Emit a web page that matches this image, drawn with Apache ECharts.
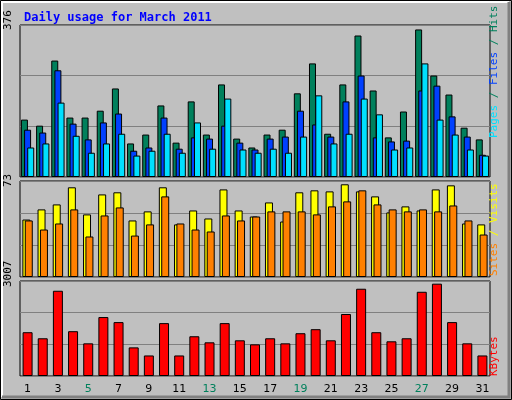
<!DOCTYPE html>
<html><head><meta charset="utf-8">
<script src="https://cdn.jsdelivr.net/npm/echarts@6/dist/echarts.min.js"></script>
<style>html,body{margin:0;padding:0;background:#c0c0c0}#c{width:512px;height:400px}</style>
</head><body><div id="c"></div>
<script>
const days = ['1','2','3','4','5','6','7','8','9','10','11','12','13','14','15','16','17','18','19','20','21','22','23','24','25','26','27','28','29','30','31'];
const weekend = ['5','6','12','13','19','20','26','27'];
const hits = [142,127,288,147,147,164,219,83,105,177,85,187,105,229,95,73,105,117,207,281,107,229,350,214,98,162,365,251,204,122,93];
const files = [117,110,264,132,93,135,157,65,73,147,70,98,95,127,85,68,95,100,164,130,100,187,251,98,88,90,214,226,150,100,55];
const pages = [73,83,184,102,60,83,107,53,65,107,60,135,70,194,68,60,70,60,100,202,83,107,194,155,68,73,281,142,105,68,53];
const visits = [43.7,51.4,55.2,68.2,47.6,62.8,64.4,43,49.9,68.2,40,50.6,44.5,66.6,50.6,46,56.7,42.2,64.4,65.9,65.1,70.5,65.1,61.3,49.1,53.7,50.6,66.6,69.7,40.7,40];
const sites = [43,36.1,40.7,51.4,30.8,46.8,52.9,31.5,40,61.3,40.7,36.1,34.6,46.8,43,46,49.9,49.9,49.9,47.6,53.7,57.5,65.9,55.2,51.4,49.9,51.4,49.9,54.4,43,32.3];
const kbytes = [1386,1194,2698,1418,1034,1866,1706,906,650,1674,650,1258,1066,1674,1130,1002,1194,1034,1354,1482,1130,1962,2762,1386,1098,1194,2666,2922,1706,1034,650];
const maxHits = 376, maxVisits = 73, maxKB = 3007;

const chart = echarts.init(document.getElementById('c'));
const grids = [{top:25,height:152},{top:181,height:96},{top:281,height:95}];
const maxes = [maxHits, maxVisits, maxKB];
const bs = {borderColor:'#000',borderWidth:1};
function xa(i){return {type:'category',gridIndex:i,data:days,axisTick:{show:false},
  axisLine:{show:false},
  axisLabel:{show:i===2,margin:8,fontFamily:'DejaVu Sans',fontSize:11,
    color:(v)=>weekend.includes(v)?'#00805c':'#000'}};}
function ya(i){return {type:'value',gridIndex:i,min:0,max:maxes[i],interval:maxes[i]/3,
  axisLabel:{show:false},axisLine:{show:false},axisTick:{show:false},
  splitLine:{lineStyle:{color:'#808080',width:1}}};}
const rt=(x,y,rich,text)=>({type:'text',x:x,y:y,rotation:Math.PI/2,
  style:{text:text,rich:rich,font:'11px DejaVu Sans Mono',fill:'#000',align:'left',verticalAlign:'middle'}});
chart.setOption({
  animation:false,
  backgroundColor:'#c0c0c0',
  title:{text:'Daily usage for March 2011',left:19,top:7,
    textStyle:{color:'#0000ff',fontFamily:'DejaVu Sans Mono',fontWeight:'bold',fontSize:12}},
  grid:grids.map(g=>({left:20,width:470,top:g.top,height:g.height,show:true,
    backgroundColor:'#c0c0c0',borderColor:'#000',borderWidth:1})),
  xAxis:[xa(0),xa(1),xa(2)],
  yAxis:[ya(0),ya(1),ya(2)],
  series:[
    {type:'bar',xAxisIndex:0,yAxisIndex:0,data:hits,barWidth:7,barGap:'-55%',itemStyle:{color:'#00805c',...bs}},
    {type:'bar',xAxisIndex:0,yAxisIndex:0,data:files,barWidth:7,barGap:'-55%',itemStyle:{color:'#0040ff',...bs}},
    {type:'bar',xAxisIndex:0,yAxisIndex:0,data:pages,barWidth:7,barGap:'-55%',itemStyle:{color:'#00e0ff',...bs}},
    {type:'bar',xAxisIndex:1,yAxisIndex:1,data:visits,barWidth:8,barGap:'-70%',itemStyle:{color:'#ffff00',...bs}},
    {type:'bar',xAxisIndex:1,yAxisIndex:1,data:sites,barWidth:8,barGap:'-70%',itemStyle:{color:'#ff8000',...bs}},
    {type:'bar',xAxisIndex:2,yAxisIndex:2,data:kbytes,barWidth:10,itemStyle:{color:'#ff0000',...bs}}
  ],
  graphic:[
    {type:'rect',shape:{x:0.5,y:0.5,width:511,height:399},style:{fill:'none',stroke:'#000',lineWidth:1},silent:true},
    {type:'polyline',shape:{points:[[2,397],[2,2],[509,2]]},style:{fill:'none',stroke:'#fff',lineWidth:2}},
    {type:'polyline',shape:{points:[[509,2],[509,397],[2,397]]},style:{fill:'none',stroke:'#808080',lineWidth:3}},
    rt(8,30,{},String(maxHits)),
    rt(8,187,{},String(maxVisits)),
    rt(8,287,{},String(maxKB)),
    rt(494,138,{p:{fill:'#00e0ff'},f:{fill:'#0040ff'},h:{fill:'#00805c'}},'{p|Pages} {h|/} {f|Files} {h|/} {h|Hits}'),
    rt(494,276,{s:{fill:'#ff8000'},v:{fill:'#ffff00'}},'{s|Sites} {v|/} {v|Visits}'),
    rt(494,376,{k:{fill:'#ff0000'}},'{k|KBytes}')
  ]
});
</script></body></html>
